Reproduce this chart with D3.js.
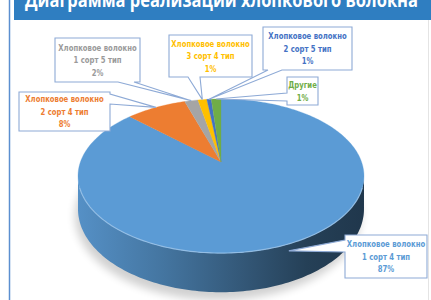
<!DOCTYPE html>
<html>
<head>
<meta charset="utf-8">
<title>Диаграмма реализации хлопкового волокна</title>
<script src="https://cdn.jsdelivr.net/npm/d3@7/dist/d3.min.js"></script>
<style>
html, body { margin: 0; padding: 0; background: #fff; }
svg { display: block; }
.lbl { font-family: "DejaVu Sans Condensed", "Liberation Sans Narrow", sans-serif; font-weight: bold; font-size: 9px; }
</style>
</head>
<body>
<div id="chart"></div>
<script>
// данные диаграммы
const title = "Диаграмма реализации хлопкового волокна";
const categories = [
    ["Хлопковое волокно", "1 сорт 4 тип"],
    ["Хлопковое волокно", "2 сорт 4 тип"],
    ["Хлопковое волокно", "1 сорт 5 тип"],
    ["Хлопковое волокно", "3 сорт 4 тип"],
    ["Хлопковое волокно", "2 сорт 5 тип"],
    ["Другие"]
];
const shares = [87.0, 8.1, 1.8, 1.2, 0.6, 1.3];
const colors = ["#5b9bd5", "#ed7d31", "#a5a5a5", "#ffc000", "#4472c4", "#70ad47"];

// расположение выносок: x, y, ширина, высота, сторона хвоста, начало и конец основания
const boxes = [
    [345, 235, 82, 43, "left", 240, 252],
    [19, 92, 91, 39, "right", 94, 104],
    [55, 38, 85, 44, "bottom", 118, 134],
    [169, 35, 83, 42, "bottom", 188, 200],
    [263, 27, 89, 43, "bottom", 268, 282],
    [287, 77, 31, 28, "left", 93, 101]
];

const W = 431, H = 300;
const cx = 221, cy = 162, R = 140.6, Ry = 74.5, K = 0.182, D = 32;

// проекция точки диска с перспективой
function proj(a, r, h) {
    const u = r * Math.sin(a), v = -r * Math.cos(a);
    const w = 1 - K * v;
    return [cx + R * u / w, cy + (Ry * v + D * h) / w];
}
function arcPts(a0, a1, h) {
    const n = Math.max(2, Math.ceil(Math.abs(a1 - a0) / 0.02));
    return d3.range(n + 1).map(i => proj(a0 + (a1 - a0) * i / n, 1, h));
}

const svg = d3.select("#chart").append("svg").attr("width", W).attr("height", H);
const defs = svg.append("defs");
const line = d3.line();

// рамка и заголовок
svg.append("line").attr("x1", 9.5).attr("x2", 9.5).attr("y1", 0).attr("y2", H)
    .attr("stroke", "#5b8fd0").attr("stroke-width", 1.5);
svg.append("line").attr("x1", 428.5).attr("x2", 428.5).attr("y1", 20).attr("y2", H)
    .attr("stroke", "#e4e4e4").attr("stroke-width", 1);
svg.append("rect").attr("x", 14).attr("y", 0).attr("width", W - 14).attr("height", 20).attr("fill", "#2f7ec1");
svg.append("text").attr("x", 25).attr("y", 7)
    .attr("textLength", 393).attr("lengthAdjust", "spacingAndGlyphs")
    .attr("fill", "#fff").attr("font-family", "Open Sans, sans-serif").attr("font-weight", "bold")
    .attr("font-size", 20).text(title);

// тень
const blur = defs.append("filter").attr("id", "sh").attr("x", "-20%").attr("y", "-20%").attr("width", "140%").attr("height", "140%");
blur.append("feGaussianBlur").attr("stdDeviation", 4);
svg.append("path")
    .attr("d", line(arcPts(0, 2 * Math.PI, 1.15)) + "Z")
    .attr("transform", "translate(-3,2)")
    .attr("fill", "#000").attr("opacity", 0.18).attr("filter", "url(#sh)");

const pie = d3.pie().sort(null).value(d => d);
const arcs = pie(shares);

// боковая поверхность
const vis0 = Math.acos(-K), vis1 = 2 * Math.PI - Math.acos(-K);
const left = proj(vis1, 1, 0)[0], right = proj(vis0, 1, 0)[0];
arcs.forEach((d, i) => {
    const a0 = Math.max(d.startAngle, vis0), a1 = Math.min(d.endAngle, vis1);
    if (a0 >= a1) return;
    const base = d3.color(colors[i]);
    const g = defs.append("linearGradient").attr("id", "side" + i)
        .attr("gradientUnits", "userSpaceOnUse")
        .attr("x1", left).attr("x2", right).attr("y1", 0).attr("y2", 0);
    [[0, 0.2], [0.3, 0.8], [0.6, 1.7], [0.8, 2.5], [1, 2.9]].forEach(s => {
        g.append("stop").attr("offset", s[0]).attr("stop-color", base.darker(s[1]).formatHex());
    });
    const pts = arcPts(a0, a1, 0).concat(arcPts(a1, a0, 1));
    svg.append("path").attr("d", line(pts) + "Z").attr("fill", "url(#side" + i + ")");
});

// верхняя поверхность
arcs.forEach((d, i) => {
    const pts = [proj(0, 0, 0)].concat(arcPts(d.startAngle, d.endAngle, 0));
    svg.append("path").attr("d", line(pts) + "Z").attr("fill", colors[i])
        .attr("stroke", colors[i]).attr("stroke-width", 0.3);
});
svg.append("path").attr("d", line(arcPts(vis0 + 0.15, vis1 - 0.15, 0)))
    .attr("fill", "none").attr("stroke", "#9cc4ea").attr("stroke-width", 1.2).attr("opacity", 0.8);

// выноски
function callout(b, tip) {
    const [x, y, w, h, side, p0, p1] = b;
    const t = tip[0] + "," + tip[1];
    if (side === "bottom")
        return `M${x},${y}H${x + w}V${y + h}H${p1}L${t}L${p0},${y + h}H${x}Z`;
    if (side === "left")
        return `M${x},${y}H${x + w}V${y + h}H${x}V${p1}L${t}L${x},${p0}Z`;
    return `M${x},${y}H${x + w}V${p0}L${t}L${x + w},${p1}V${y + h}H${x}Z`;
}

arcs.forEach((d, i) => {
    const b = boxes[i];
    const mid = (d.startAngle + d.endAngle) / 2;
    const tip = i === 0 ? proj(mid, 1.01, 0.15) : proj(mid, 1, 0);
    const g = svg.append("g");
    g.append("path").attr("d", callout(b, tip))
        .attr("fill", "#fff").attr("stroke", "#8eaad6").attr("stroke-width", 1.1);
    const lines = categories[i].concat([Math.round(d.data) + "%"]);
    const cxB = b[0] + b[2] / 2, cyB = b[1] + b[3] / 2;
    lines.forEach((s, j) => {
        const t = g.append("text").attr("class", "lbl")
            .attr("x", cxB).attr("y", cyB + (j - (lines.length - 1) / 2) * 12.5 + 3.3)
            .attr("text-anchor", "middle").attr("fill", i === 2 ? "#9a9a9a" : colors[i])
            .text(s);
        // сжатие по ширине, как у узкого шрифта
        const len = t.node().getComputedTextLength();
        t.attr("textLength", len * 0.85).attr("lengthAdjust", "spacingAndGlyphs");
    });
});
</script>
</body>
</html>
